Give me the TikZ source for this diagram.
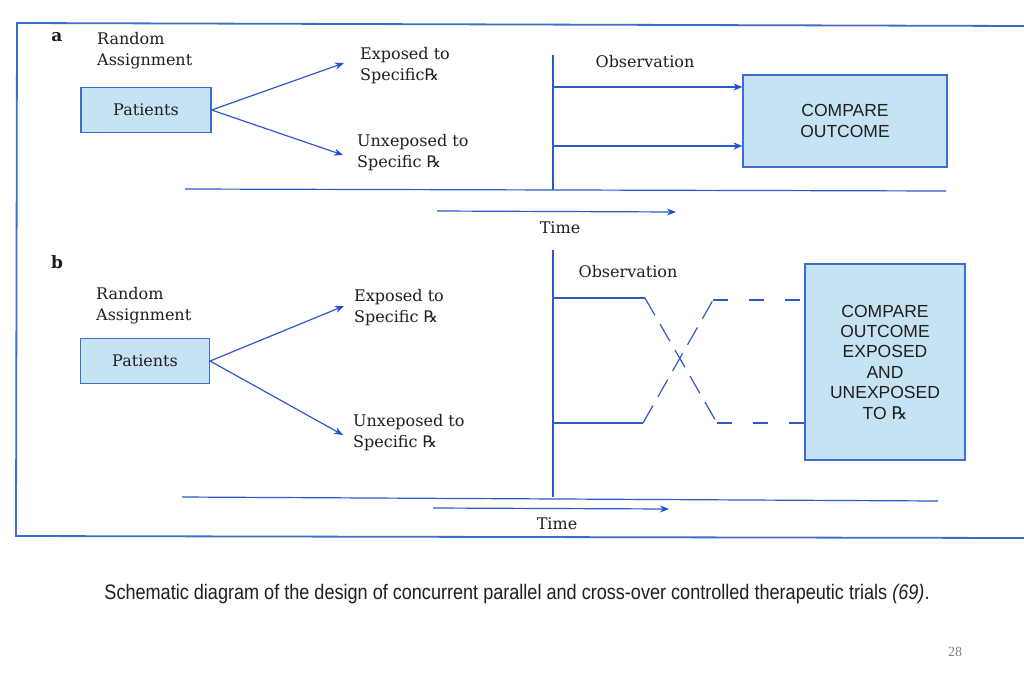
\documentclass[tikz,border=0pt]{standalone}
\usepackage{fontspec}
\usepackage{graphicx}
\setmainfont{DejaVu Serif}
\newfontfamily\rxfont{DejaVu Sans}
\newfontfamily\capsans{Liberation Sans}
\newfontfamily\pgserif{Liberation Serif}
\usetikzlibrary{arrows.meta}
\definecolor{lineblue}{HTML}{2B5CC6}
\definecolor{tipblue}{HTML}{1A4FD8}
\definecolor{boxfill}{HTML}{C6E3F3}
\definecolor{boxedge}{HTML}{3A6FD0}
\definecolor{inkdark}{HTML}{1E1E24}
\newcommand{\Rx}{{\rxfont ℞}}
\tikzset{
  maintext/.style={font=\fontsize{16}{21}\selectfont, text=inkdark, inner sep=0pt, align=left},
  pbox/.style={draw=boxedge, line width=1.2pt, fill=boxfill, font=\fontsize{16}{21}\selectfont, text=inkdark, inner sep=0pt},
  cbox/.style={draw=boxedge, line width=1.2pt, fill=boxfill, font=\capsans\fontsize{17.5}{20.4}\selectfont, text=inkdark, align=center, inner sep=0pt},
  bline/.style={draw=lineblue, line width=1.2pt},
  arr/.style={bline, -{Stealth[length=9pt,width=7pt,color=tipblue]}},
  dashx/.style={bline, dash pattern=on 20pt off 10pt},
  dashh/.style={bline, dash pattern=on 15pt off 21pt},
  panellbl/.style={font=\bfseries\fontsize{17}{21}\selectfont, text=inkdark, inner sep=0pt}
}
\begin{document}
\begin{tikzpicture}[x=1pt,y=-1pt]
\useasboundingbox (0,0) rectangle (1024,683);
\fill[white] (0,0) rectangle (1024,683);

% frame
\draw[draw=boxedge, line width=1.8pt] (1024,26) -- (17,23) -- (16,536) -- (1024,538);

% ---------------- panel a ----------------
\node[panellbl] (la) at (57,37) {a};
\node[maintext, anchor=west] (ra) at (97,51) {Random\\Assignment};
\node[pbox, minimum width=130pt, minimum height=45pt] (pa) at (146,110) {Patients};
\node[maintext, anchor=west] (ea) at (360,66) {Exposed to\\Specific\Rx};
\node[maintext, anchor=west] (ua) at (357,153) {Unxeposed to\\Specific \Rx};
\draw[arr] (pa.east) -- ([xshift=-16pt,yshift=3pt]ea.west);
\draw[arr] (pa.east) -- ([xshift=-14pt,yshift=-2pt]ua.west);

\coordinate (la1) at (185,189);
\coordinate (la2) at (946,191);
\draw[bline] (la1) -- (la2);
\coordinate (ta1) at (437,211);
\coordinate (ta2) at (676,212);
\draw[arr] (ta1) -- (ta2);
\node[maintext] (tia) at (560,228) {Time};

\coordinate (va1) at (553,55);
\coordinate (va2) at (553,190);
\draw[bline] (va1) -- (va2);
\node[maintext] (oba) at (645,62) {Observation};
\node[cbox, minimum width=204pt, minimum height=92pt] (ca) at (845,121) {COMPARE\\OUTCOME};
\coordinate (oa1) at (553,87);
\coordinate (oa2) at (553,146);
\draw[arr] (oa1) -- (oa1 -| ca.west);
\draw[arr] (oa2) -- (oa2 -| ca.west);

% ---------------- panel b ----------------
\node[panellbl] (lb) at (57,262) {b};
\node[maintext, anchor=west] (rb) at (96,306) {Random\\Assignment};
\node[pbox, minimum width=129pt, minimum height=45pt] (pb) at (145,361) {Patients};
\node[maintext, anchor=west] (eb) at (354,308) {Exposed to\\Specific \Rx};
\node[maintext, anchor=west] (ub) at (353,433) {Unxeposed to\\Specific \Rx};
\draw[arr] (pb.east) -- ([xshift=-10pt,yshift=2pt]eb.west);
\draw[arr] (pb.east) -- ([xshift=-10pt,yshift=-2pt]ub.west);

\coordinate (lb1) at (182,497);
\coordinate (lb2) at (938,501);
\draw[bline] (lb1) -- (lb2);
\coordinate (tb1) at (433,508);
\coordinate (tb2) at (669,509);
\draw[arr] (tb1) -- (tb2);
\node[maintext] (tib) at (557,524) {Time};

\coordinate (vb1) at (553,250);
\coordinate (vb2) at (553,497);
\draw[bline] (vb1) -- (vb2);
\node[maintext] (obb) at (628,272) {Observation};
\node[cbox, minimum width=160pt, minimum height=196pt] (cb) at (885,362)
  {COMPARE\\OUTCOME\\EXPOSED\\AND\\UNEXPOSED\\TO \Rx};

% crossover
\coordinate (x1) at (553,298);
\coordinate (x2) at (645,298);
\coordinate (x3) at (717,423);
\coordinate (y1) at (553,423);
\coordinate (y2) at (643,423);
\coordinate (y3) at (713,300);
\draw[bline] (x1) -- (x2);
\draw[dashx] (x2) -- (x3);
\draw[dashh] (x3) -- (x3 -| cb.west);
\draw[bline] (y1) -- (y2);
\draw[dashx] (y2) -- (y3);
\draw[dashh] (y3) -- (y3 -| cb.west);

% caption
\node[inner sep=0pt, text=inkdark] (cap) at (517,594)
  {\resizebox{825pt}{\height}{\capsans\fontsize{21}{24}\selectfont Schematic diagram of the design of concurrent parallel and cross-over controlled therapeutic trials \textit{(69)}.}};
\node[inner sep=0pt, text=gray, font=\pgserif\fontsize{14}{16}\selectfont] (pg) at (955,652) {28};
\end{tikzpicture}
\end{document}
